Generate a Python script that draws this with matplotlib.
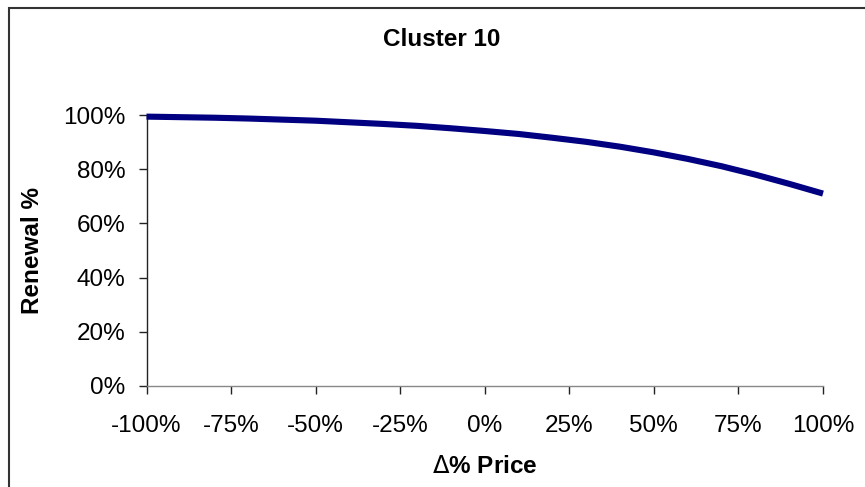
import numpy as np
import matplotlib.pyplot as plt
from matplotlib.patches import Rectangle
from matplotlib.ticker import FuncFormatter

plt.rcParams['font.family'] = ['Liberation Sans', 'DejaVu Sans']

# price change (fraction) and renewal rate read at 10% steps
price_change = [-1.0, -0.9, -0.8, -0.7, -0.6, -0.5, -0.4, -0.3, -0.2, -0.1, 0.0,
                0.1, 0.2, 0.3, 0.4, 0.5, 0.6, 0.7, 0.8, 0.9, 1.0]
renewal = [0.994, 0.992, 0.990, 0.987, 0.983, 0.979, 0.973, 0.967, 0.960, 0.951, 0.941,
           0.930, 0.916, 0.901, 0.883, 0.862, 0.838, 0.811, 0.780, 0.746, 0.710]

x_ticks = [-1.0, -0.75, -0.5, -0.25, 0.0, 0.25, 0.5, 0.75, 1.0]
y_ticks = [0.0, 0.2, 0.4, 0.6, 0.8, 1.0]

W, H = 865, 487
fig = plt.figure(figsize=(W / 100, H / 100), dpi=100)
ax = fig.add_axes([146.5 / W, (H - 386) / H, (823 - 146.5) / W, (386 - 115) / H])

ax.plot(price_change, renewal, color='#000080', lw=4.4, solid_capstyle='butt',
        zorder=5, clip_on=False)

ax.set_xlim(-1, 1)
ax.set_ylim(0, 1)
ax.set_xticks(x_ticks)
ax.set_yticks(y_ticks)
pct = FuncFormatter(lambda v, p: '%d%%' % round(v * 100))
ax.xaxis.set_major_formatter(pct)
ax.yaxis.set_major_formatter(pct)

for s in ['top', 'right']:
    ax.spines[s].set_visible(False)
ax.spines['left'].set_color('#222222')
ax.spines['bottom'].set_color('#888888')
ax.spines['left'].set_linewidth(1.0)
ax.spines['bottom'].set_linewidth(1.0)

ax.tick_params(axis='both', direction='out', length=6, width=1.0, color='#222222',
               labelsize=17.5, labelcolor='black')
ax.tick_params(axis='y', pad=9)
ax.tick_params(axis='x', pad=15)

ax.set_ylabel('Renewal %', fontsize=17.5, fontweight='bold', labelpad=14)
ax.set_xlabel(r'$\Delta$% Price', fontsize=17.5, fontweight='bold', labelpad=13)

fig.text(442 / W, (H - 39) / H, 'Cluster 10', fontsize=17.5, fontweight='bold',
         ha='center', va='center')

# chart area frame (only left and top edges fall inside the image)
fig.add_artist(Rectangle((8.5 / W, -0.1), 1.2, (H - 7.5) / H + 0.1,
                         transform=fig.transFigure, fill=False,
                         ec='#333333', lw=1.5))

fig.savefig('out.png', dpi=100)
